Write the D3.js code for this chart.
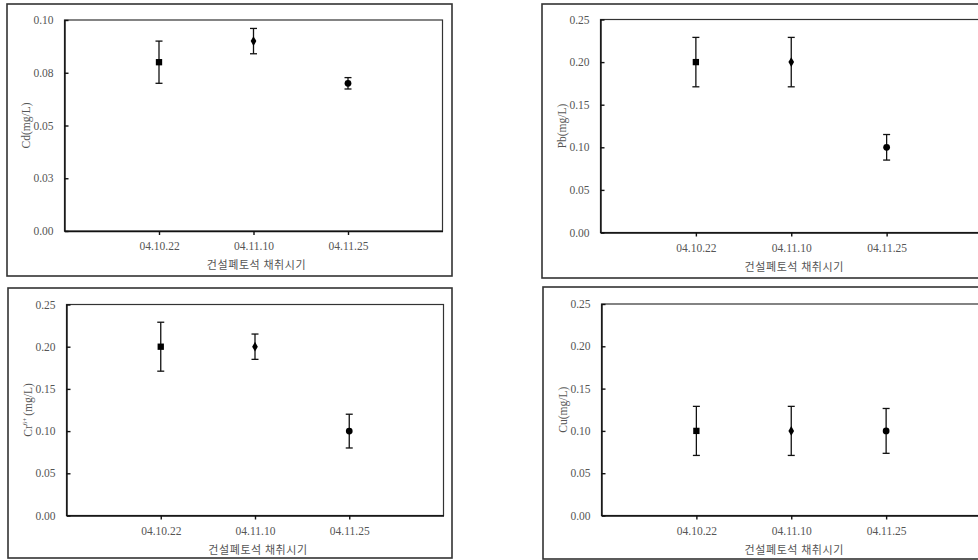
<!DOCTYPE html>
<html>
<head>
<meta charset="utf-8">
<script src="https://cdn.jsdelivr.net/npm/d3@7"></script>
<style>
  body { margin: 0; background: #fff; }
  svg { display: block; }
</style>
</head>
<body>
<svg id="chart" width="978" height="560"></svg>
<script>
// sampling dates (x categories)
const dates = ["04.10.22", "04.11.10", "04.11.25"];
const markers = ["square", "diamond", "circle"];

// Cd
const cdMean = [0.080, 0.090, 0.070];
const cdErr  = [0.010, 0.006, 0.0027];
const cdTicks = [0, 0.025, 0.05, 0.075, 0.10];
const cdTickLabels = ["0.00", "0.03", "0.05", "0.08", "0.10"];

// Pb
const pbMean = [0.20, 0.20, 0.10];
const pbErr  = [0.029, 0.029, 0.015];

// Cr6+
const crMean = [0.20, 0.20, 0.10];
const crErr  = [0.029, 0.015, 0.020];

// Cu
const cuMean = [0.10, 0.10, 0.10];
const cuErr  = [0.029, 0.029, 0.0265];

const metalTicks = [0, 0.05, 0.10, 0.15, 0.20, 0.25];
const metalTickLabels = ["0.00", "0.05", "0.10", "0.15", "0.20", "0.25"];

const xTitle = "건설폐토석 채취시기";

const serif = "'Liberation Serif', 'DejaVu Serif', serif";
const svg = d3.select("#chart");

function drawPanel(cfg) {
    const g = svg.append("g");

    // outer frame
    g.append("rect")
        .attr("x", cfg.box[0]).attr("y", cfg.box[1])
        .attr("width", cfg.box[2] - cfg.box[0]).attr("height", cfg.box[3] - cfg.box[1])
        .attr("fill", "none").attr("stroke", "#333").attr("stroke-width", 1.6);

    const [l, t, r, b] = cfg.plot;

    const x = d3.scalePoint().domain(dates).range([l, r]).padding(1);
    const y = d3.scaleLinear().domain([0, d3.max(cfg.ticks)]).range([b, t]);

    // plot area border
    g.append("rect")
        .attr("x", l).attr("y", t).attr("width", r - l).attr("height", b - t)
        .attr("fill", "none").attr("stroke", "#333").attr("stroke-width", 1.2);

    // y axis, ticks pointing inward
    g.append("g")
        .attr("transform", `translate(${l},0)`)
        .call(d3.axisLeft(y).tickValues(cfg.ticks)
            .tickFormat((d, i) => cfg.tickLabels[i])
            .tickSizeInner(-4).tickSizeOuter(0).tickPadding(11))
        .call(a => a.selectAll("path, line").attr("stroke", "#111").attr("stroke-width", 1.4))
        .call(a => a.selectAll("text").attr("font-family", serif).attr("font-size", 11.5).attr("fill", "#555"));

    // x axis
    g.append("g")
        .attr("transform", `translate(0,${b})`)
        .call(d3.axisBottom(x).tickSizeInner(4).tickSizeOuter(0).tickPadding(7))
        .call(a => a.selectAll("path, line").attr("stroke", "#111").attr("stroke-width", 1.4))
        .call(a => a.selectAll("text").attr("font-family", serif).attr("font-size", 11.5).attr("fill", "#555"));

    // x title
    g.append("text")
        .attr("x", x(dates[1]) + 3)
        .attr("y", b + 38)
        .attr("text-anchor", "middle")
        .attr("font-family", "'Noto Sans CJK KR', sans-serif")
        .attr("font-size", 11)
        .attr("letter-spacing", 0.6)
        .attr("fill", "#555")
        .text(xTitle);

    // y title
    const yl = g.append("text")
        .attr("transform", `translate(${l - 39},${(t + b) / 2}) rotate(-90)`)
        .attr("text-anchor", "middle")
        .attr("dy", "0.35em")
        .attr("font-family", serif)
        .attr("font-size", 11.5)
        .attr("fill", "#555");
    yl.append("tspan").text(cfg.label[0]);
    if (cfg.label[1]) {
        yl.append("tspan").attr("font-size", 7).attr("dy", -5).text(cfg.label[1]);
        yl.append("tspan").attr("dy", 5).attr("dx", 2).text(cfg.label[2]);
    }

    const pts = dates.map((d, i) => ({ date: d, mean: cfg.mean[i], err: cfg.err[i], marker: markers[i] }));

    // error bars
    const eb = g.selectAll(".eb").data(pts).join("g").attr("class", "eb")
        .attr("stroke", "#111").attr("stroke-width", 1.3);
    eb.append("line")
        .attr("x1", d => x(d.date)).attr("x2", d => x(d.date))
        .attr("y1", d => y(d.mean + d.err)).attr("y2", d => y(d.mean - d.err));
    eb.append("line")
        .attr("x1", d => x(d.date) - 3.5).attr("x2", d => x(d.date) + 3.5)
        .attr("y1", d => y(d.mean + d.err)).attr("y2", d => y(d.mean + d.err));
    eb.append("line")
        .attr("x1", d => x(d.date) - 3.5).attr("x2", d => x(d.date) + 3.5)
        .attr("y1", d => y(d.mean - d.err)).attr("y2", d => y(d.mean - d.err));

    // markers
    const sym = { square: d3.symbolSquare, diamond: d3.symbolDiamond, circle: d3.symbolCircle };
    const size = { square: 40, diamond: 28, circle: 36 };
    g.selectAll(".pt").data(pts).join("path").attr("class", "pt")
        .attr("transform", d => `translate(${x(d.date)},${y(d.mean)})`)
        .attr("d", d => d3.symbol(sym[d.marker], size[d.marker])())
        .attr("fill", "#000");
}

drawPanel({ box: [7, 4, 452, 276], plot: [64.5, 20, 442.5, 231],
    ticks: cdTicks, tickLabels: cdTickLabels, mean: cdMean, err: cdErr, label: ["Cd(mg/L)"] });
drawPanel({ box: [542, 4, 992, 278], plot: [600.5, 19.5, 982, 232.5],
    ticks: metalTicks, tickLabels: metalTickLabels, mean: pbMean, err: pbErr, label: ["Pb(mg/L)"] });
drawPanel({ box: [8, 288, 452, 558], plot: [66.5, 304.5, 443.5, 515.5],
    ticks: metalTicks, tickLabels: metalTickLabels, mean: crMean, err: crErr, label: ["Cr", "6+", "(mg/L)"] });
drawPanel({ box: [543, 287, 992, 559], plot: [601.5, 304, 981, 515.5],
    ticks: metalTicks, tickLabels: metalTickLabels, mean: cuMean, err: cuErr, label: ["Cu(mg/L)"] });
</script>
</body>
</html>
